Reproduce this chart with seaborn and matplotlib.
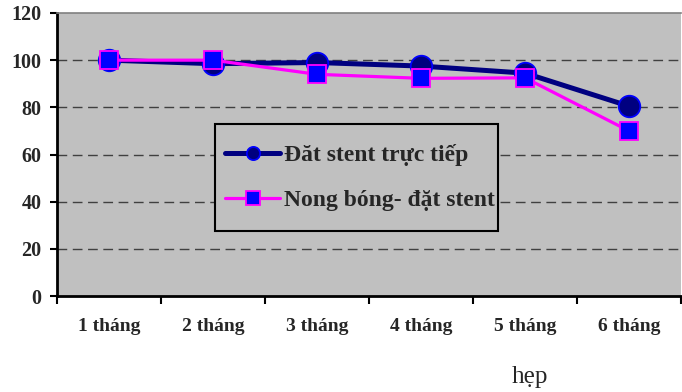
import matplotlib
matplotlib.use("Agg")
import matplotlib.pyplot as plt
import numpy as np
import pandas as pd
import seaborn as sns
from matplotlib.patches import Rectangle
from matplotlib.ticker import FixedLocator

months = ["1 tháng", "2 tháng", "3 tháng", "4 tháng", "5 tháng", "6 tháng"]
direct_stent = [100, 98.5, 99, 97.5, 94.5, 80.5]
balloon_stent = [100, 100, 94, 92.3, 92.5, 70]
series_names = ["Đăt stent trực tiếp", "Nong bóng- đặt stent"]

sns.set_theme(style="white")
plt.rcParams["font.family"] = ["Liberation Serif", "DejaVu Serif"]

fig = plt.figure(figsize=(6.82, 3.92), dpi=100)
ax = fig.add_axes([57 / 682, 96 / 392, 624 / 682, 283 / 392])
ax.set_facecolor("#C0C0C0")

df = pd.DataFrame({"month": months, "a": direct_stent, "b": balloon_stent})

sns.lineplot(data=df, x="month", y="a", ax=ax, color="#000080", lw=3.6,
             marker="o", markersize=15.5, markerfacecolor="#000080",
             markeredgecolor="#0000FF", markeredgewidth=1.3,
             label=series_names[0], sort=False, zorder=3)
sns.lineplot(data=df, x="month", y="b", ax=ax, color="#FF00FF", lw=2.3,
             marker="s", markersize=12.5, markerfacecolor="#0000FF",
             markeredgecolor="#FF00FF", markeredgewidth=1.3,
             label=series_names[1], sort=False, zorder=4)

ax.set_xlim(-0.5, len(months) - 0.5)
ax.set_ylim(0, 120)
ax.set_yticks(np.arange(0, 121, 20))
ax.xaxis.set_minor_locator(FixedLocator(np.arange(-0.5, len(months), 1)))
ax.tick_params(axis="x", which="major", length=0, pad=16)
ax.tick_params(axis="x", which="minor", length=5.5, width=1.5, color="black", bottom=True)
ax.tick_params(axis="y", length=5, width=1.5, color="black", left=True, pad=6)
for lbl in ax.get_xticklabels():
    lbl.set_fontweight("bold")
    lbl.set_fontsize(14)
for lbl in ax.get_yticklabels():
    lbl.set_fontweight("bold")
    lbl.set_fontsize(14.5)

for y in range(20, 120, 20):
    ax.axhline(y, color="#404040", lw=1.0, ls=(0, (7, 4)), zorder=1)

for side in ["left", "bottom"]:
    ax.spines[side].set_color("black")
    ax.spines[side].set_linewidth(2)
ax.spines["top"].set_color("#808080")
ax.spines["top"].set_linewidth(1.2)
ax.spines["right"].set_visible(False)

ax.set_xlabel("")
ax.set_ylabel("")

# legend box drawn separately so its size matches the original
ax.add_patch(Rectangle((0.2532, 0.2297), 0.4535, 0.378, transform=ax.transAxes,
                       facecolor="#C0C0C0", edgecolor="black", lw=1.5, zorder=5))
leg = ax.legend(loc="center left", bbox_to_anchor=(0.269, 0.419),
                frameon=False, prop={"weight": "bold", "size": 17},
                handlelength=2.35, labelspacing=1.0, borderpad=0,
                handletextpad=0.15, borderaxespad=0)
leg.set_zorder(6)
for h in leg.legend_handles:
    h.set_markersize(9.5)

fig.text(530 / 682, 9 / 392, "hẹp", ha="center", va="baseline", fontsize=18)

fig.savefig("out.png", dpi=100)
